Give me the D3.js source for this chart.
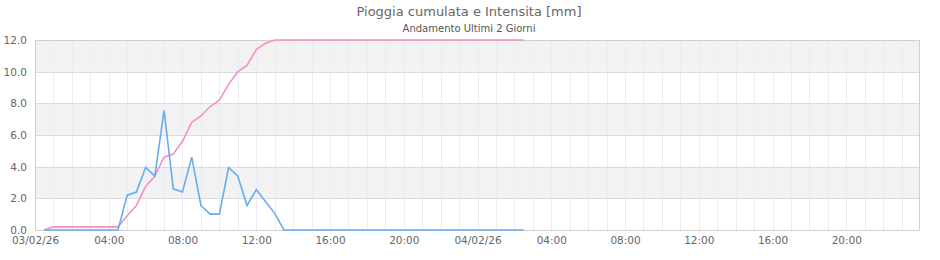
<!DOCTYPE html>
<html>
<head>
<meta charset="utf-8">
<script src="https://cdn.jsdelivr.net/npm/d3@7"></script>
<style>
    body { margin: 0; background: #fff; }
    svg { display: block; font-family: "DejaVu Sans", sans-serif; }
</style>
</head>
<body>
<svg id="chart" width="940" height="260"></svg>
<script>
// --- Data ---
const times = [
    "2026-02-03 00:30", "2026-02-03 01:00", "2026-02-03 01:30", "2026-02-03 02:00", "2026-02-03 02:30",
    "2026-02-03 03:00", "2026-02-03 03:30", "2026-02-03 04:00", "2026-02-03 04:30", "2026-02-03 05:00",
    "2026-02-03 05:30", "2026-02-03 06:00", "2026-02-03 06:30", "2026-02-03 07:00", "2026-02-03 07:30",
    "2026-02-03 08:00", "2026-02-03 08:30", "2026-02-03 09:00", "2026-02-03 09:30", "2026-02-03 10:00",
    "2026-02-03 10:30", "2026-02-03 11:00", "2026-02-03 11:30", "2026-02-03 12:00", "2026-02-03 12:30",
    "2026-02-03 13:00", "2026-02-03 13:30", "2026-02-03 14:00", "2026-02-03 14:30", "2026-02-03 15:00",
    "2026-02-03 15:30", "2026-02-03 16:00", "2026-02-03 16:30", "2026-02-03 17:00", "2026-02-03 17:30",
    "2026-02-03 18:00", "2026-02-03 18:30", "2026-02-03 19:00", "2026-02-03 19:30", "2026-02-03 20:00",
    "2026-02-03 20:30", "2026-02-03 21:00", "2026-02-03 21:30", "2026-02-03 22:00", "2026-02-03 22:30",
    "2026-02-03 23:00", "2026-02-03 23:30", "2026-02-04 00:00", "2026-02-04 00:30", "2026-02-04 01:00",
    "2026-02-04 01:30", "2026-02-04 02:00", "2026-02-04 02:30"
];

const cumulata = [
    0, 0.2, 0.2, 0.2, 0.2, 0.2, 0.2, 0.2, 0.2, 0.9,
    1.55, 2.75, 3.4, 4.6, 4.8, 5.6, 6.8, 7.2, 7.8, 8.2,
    9.2, 10.0, 10.4, 11.4, 11.8, 12.0, 12.0, 12.0, 12.0, 12.0,
    12.0, 12.0, 12.0, 12.0, 12.0, 12.0, 12.0, 12.0, 12.0, 12.0,
    12.0, 12.0, 12.0, 12.0, 12.0, 12.0, 12.0, 12.0, 12.0, 12.0,
    12.0, 12.0, 12.0
];

const intensita = [
    0, 0, 0, 0, 0, 0, 0, 0, 0, 2.2,
    2.4, 3.95, 3.4, 7.55, 2.6, 2.4, 4.6, 1.55, 1.0, 1.0,
    3.95, 3.4, 1.55, 2.55, 1.8, 1.05, 0, 0, 0, 0,
    0, 0, 0, 0, 0, 0, 0, 0, 0, 0,
    0, 0, 0, 0, 0, 0, 0, 0, 0, 0,
    0, 0, 0
];

const yTicks = [0, 2, 4, 6, 8, 10, 12];
const xRange = ["2026-02-03 00:00", "2026-02-05 00:00"];

// --- Layout ---
const svg = d3.select("#chart");
const margin = { top: 40, right: 20, bottom: 30, left: 35 };
const width = 940, height = 260;
const parse = d3.utcParse("%Y-%m-%d %H:%M");

const x = d3.scaleUtc()
    .domain(xRange.map(parse))
    .range([margin.left, width - margin.right]);

const y = d3.scaleLinear()
    .domain([0, 12])
    .range([height - margin.bottom, margin.top]);

const xEnd = x.domain()[1];

// --- Alternating bands ---
svg.append("g")
    .selectAll("rect")
    .data(d3.pairs(yTicks).filter((d, i) => i % 2 === 1))
    .join("rect")
    .attr("x", margin.left)
    .attr("width", x.range()[1] - margin.left)
    .attr("y", d => y(d[1]))
    .attr("height", d => y(d[0]) - y(d[1]))
    .attr("fill", "#f2f2f2");

// --- Hourly vertical grid ---
svg.append("g")
    .selectAll("line")
    .data(x.ticks(d3.utcHour.every(1)).filter(d => d < xEnd))
    .join("line")
    .attr("x1", d => Math.round(x(d)) + 0.5)
    .attr("x2", d => Math.round(x(d)) + 0.5)
    .attr("y1", y(12))
    .attr("y2", y(0))
    .attr("stroke", "#ebebfa")
    .attr("stroke-width", 1);

// --- Horizontal grid ---
svg.append("g")
    .selectAll("line")
    .data(yTicks)
    .join("line")
    .attr("x1", margin.left)
    .attr("x2", x.range()[1])
    .attr("y1", d => Math.round(y(d)) + 0.5)
    .attr("y2", d => Math.round(y(d)) + 0.5)
    .attr("stroke", "#dcdcdc");

// --- Border ---
svg.append("rect")
    .attr("x", margin.left + 0.5)
    .attr("y", margin.top + 0.5)
    .attr("width", x.range()[1] - margin.left - 1)
    .attr("height", y(0) - y(12))
    .attr("fill", "none")
    .attr("stroke", "#d0d0d0");

// --- Axes ---
const fmtTick = d => (d.getUTCHours() === 0 ? d3.utcFormat("%d/%m/%y")(d) : d3.utcFormat("%H:%M")(d));
const xTicks = x.ticks(d3.utcHour.every(4)).filter(d => d < xEnd);

const xAxis = svg.append("g")
    .attr("transform", `translate(0,${y(0)})`)
    .call(d3.axisBottom(x).tickValues(xTicks).tickFormat(fmtTick).tickSize(0).tickPadding(7));
xAxis.select(".domain").remove();

const yAxis = svg.append("g")
    .attr("transform", `translate(${margin.left},0)`)
    .call(d3.axisLeft(y).tickValues(yTicks).tickFormat(d3.format(".1f")).tickSize(0).tickPadding(8));
yAxis.select(".domain").remove();

svg.selectAll(".tick text")
    .attr("fill", "#666")
    .style("font-size", "10.5px")
    .style("font-family", "DejaVu Sans, sans-serif");

// --- Lines ---
const points = times.map(parse);

const line = d3.line()
    .x((d, i) => x(points[i]))
    .y(d => y(d));

svg.append("path")
    .datum(cumulata)
    .attr("fill", "none")
    .attr("stroke", "#f390c4")
    .attr("stroke-width", 1.6)
    .attr("d", line);

svg.append("path")
    .datum(intensita)
    .attr("fill", "none")
    .attr("stroke", "#66acf0")
    .attr("stroke-width", 1.6)
    .attr("d", line);

// --- Titles ---
svg.append("text")
    .attr("x", 469)
    .attr("y", 16)
    .attr("text-anchor", "middle")
    .attr("fill", "#666")
    .style("font-size", "13px")
    .text("Pioggia cumulata e Intensita [mm]");

svg.append("text")
    .attr("x", 469)
    .attr("y", 32)
    .attr("text-anchor", "middle")
    .attr("fill", "#555")
    .style("font-size", "10px")
    .text("Andamento Ultimi 2 Giorni");
</script>
</body>
</html>
